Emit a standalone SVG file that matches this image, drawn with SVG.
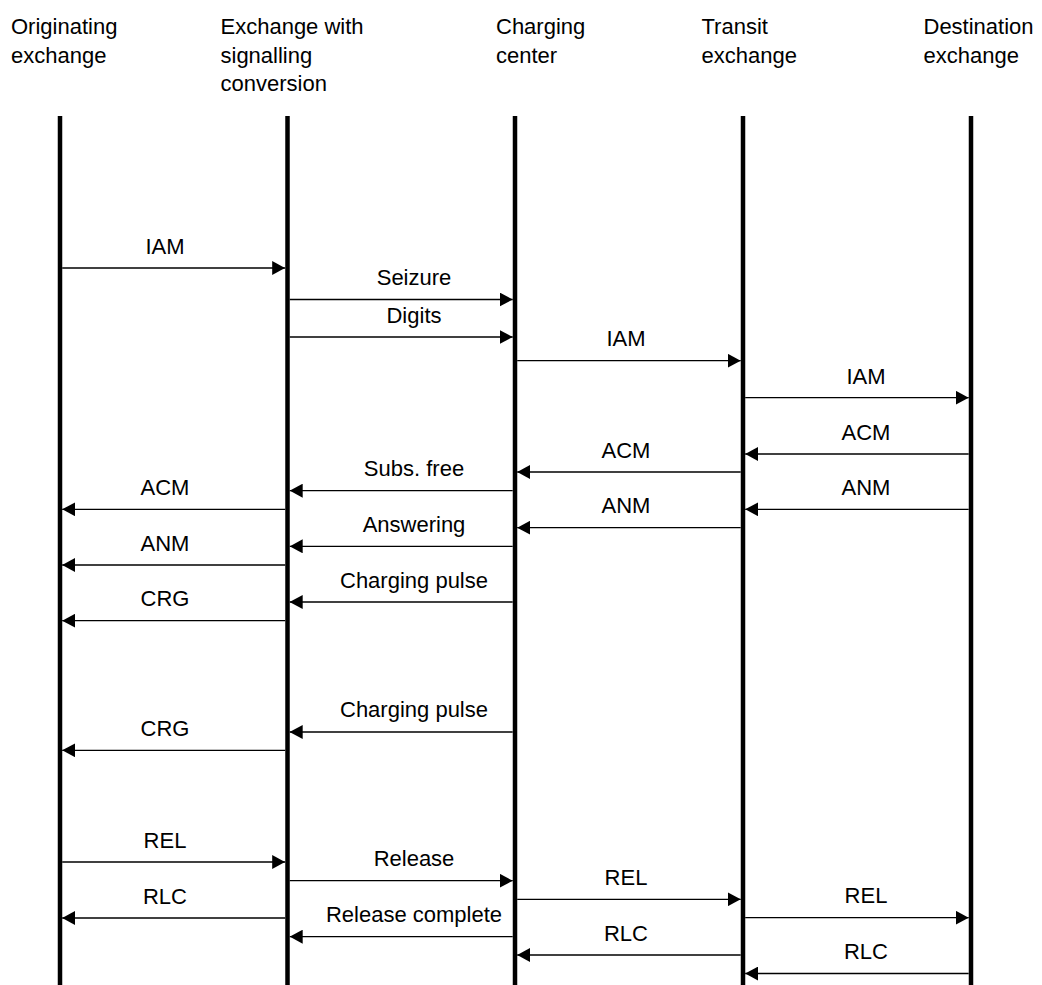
<svg xmlns="http://www.w3.org/2000/svg" width="1042" height="985" viewBox="0 0 1042 985">
<style>
text{font-family:"Liberation Sans",Arial,sans-serif;font-size:22px;fill:#000}
.lbl{text-anchor:middle}
.life{stroke:#000;stroke-width:4.5;fill:none}
.msg{stroke:#000;stroke-width:1.3;fill:none;marker-end:url(#ah)}
</style>
<defs>
<marker id="ah" markerUnits="userSpaceOnUse" markerWidth="13" markerHeight="14" refX="13" refY="7" orient="auto" viewBox="0 0 13 14">
<path d="M0,0 L13,7 L0,14 Z" fill="#000"/>
</marker>
</defs>
<rect width="1042" height="985" fill="#fff"/>
<g id="originating">
<text x="11" y="34.3">Originating</text>
<text x="11" y="62.8">exchange</text>
<line class="life" x1="60" y1="116" x2="60" y2="990"/>
</g>
<g id="conversion">
<text x="220.5" y="34.3">Exchange with</text>
<text x="220.5" y="62.8">signalling</text>
<text x="220.5" y="91.3">conversion</text>
<line class="life" x1="287.5" y1="116" x2="287.5" y2="990"/>
</g>
<g id="charging">
<text x="496" y="34.3">Charging</text>
<text x="496" y="62.8">center</text>
<line class="life" x1="515" y1="116" x2="515" y2="990"/>
</g>
<g id="transit">
<text x="701.5" y="34.3">Transit</text>
<text x="701.5" y="62.8">exchange</text>
<line class="life" x1="743" y1="116" x2="743" y2="990"/>
</g>
<g id="destination">
<text x="923.5" y="34.3">Destination</text>
<text x="923.5" y="62.8">exchange</text>
<line class="life" x1="971" y1="116" x2="971" y2="990"/>
</g>
<g id="connectors">
<line class="msg" x1="62.2" y1="268" x2="285.2" y2="268"/><text class="lbl" x="165" y="253.5">IAM</text>
<line class="msg" x1="289.7" y1="299.5" x2="512.7" y2="299.5"/><text class="lbl" x="414" y="285">Seizure</text>
<line class="msg" x1="289.7" y1="337" x2="512.7" y2="337"/><text class="lbl" x="414" y="322.5">Digits</text>
<line class="msg" x1="517.2" y1="360.7" x2="740.7" y2="360.7"/><text class="lbl" x="626" y="346.2">IAM</text>
<line class="msg" x1="745.2" y1="397.7" x2="968.7" y2="397.7"/><text class="lbl" x="866" y="383.5">IAM</text>
<line class="msg" x1="968.7" y1="454" x2="745.2" y2="454"/><text class="lbl" x="866" y="439.5">ACM</text>
<line class="msg" x1="740.7" y1="472" x2="517.2" y2="472"/><text class="lbl" x="626" y="457.5">ACM</text>
<line class="msg" x1="512.7" y1="490.7" x2="289.7" y2="490.7"/><text class="lbl" x="414" y="476.2">Subs. free</text>
<line class="msg" x1="285.2" y1="509.3" x2="62.2" y2="509.3"/><text class="lbl" x="165" y="494.8">ACM</text>
<line class="msg" x1="968.7" y1="509.3" x2="745.2" y2="509.3"/><text class="lbl" x="866" y="494.8">ANM</text>
<line class="msg" x1="740.7" y1="527.7" x2="517.2" y2="527.7"/><text class="lbl" x="626" y="513.2">ANM</text>
<line class="msg" x1="512.7" y1="546.3" x2="289.7" y2="546.3"/><text class="lbl" x="414" y="531.8">Answering</text>
<line class="msg" x1="285.2" y1="565" x2="62.2" y2="565"/><text class="lbl" x="165" y="550.5">ANM</text>
<line class="msg" x1="512.7" y1="602" x2="289.7" y2="602"/><text class="lbl" x="414" y="587.5">Charging pulse</text>
<line class="msg" x1="285.2" y1="620.7" x2="62.2" y2="620.7"/><text class="lbl" x="165" y="606.2">CRG</text>
<line class="msg" x1="512.7" y1="732" x2="289.7" y2="732"/><text class="lbl" x="414" y="717">Charging pulse</text>
<line class="msg" x1="285.2" y1="750.3" x2="62.2" y2="750.3"/><text class="lbl" x="165" y="735.8">CRG</text>
<line class="msg" x1="62.2" y1="862" x2="285.2" y2="862"/><text class="lbl" x="165" y="847.5">REL</text>
<line class="msg" x1="289.7" y1="880.7" x2="512.7" y2="880.7"/><text class="lbl" x="414" y="866">Release</text>
<line class="msg" x1="517.2" y1="899.3" x2="740.7" y2="899.3"/><text class="lbl" x="626" y="884.8">REL</text>
<line class="msg" x1="285.2" y1="918" x2="62.2" y2="918"/><text class="lbl" x="165" y="903.5">RLC</text>
<line class="msg" x1="745.2" y1="917.7" x2="968.7" y2="917.7"/><text class="lbl" x="866" y="903.2">REL</text>
<line class="msg" x1="512.7" y1="936.7" x2="289.7" y2="936.7"/><text class="lbl" x="414" y="921.5">Release complete</text>
<line class="msg" x1="740.7" y1="955" x2="517.2" y2="955"/><text class="lbl" x="626" y="940.5">RLC</text>
<line class="msg" x1="968.7" y1="973.5" x2="745.2" y2="973.5"/><text class="lbl" x="866" y="959">RLC</text>
</g>
</svg>
